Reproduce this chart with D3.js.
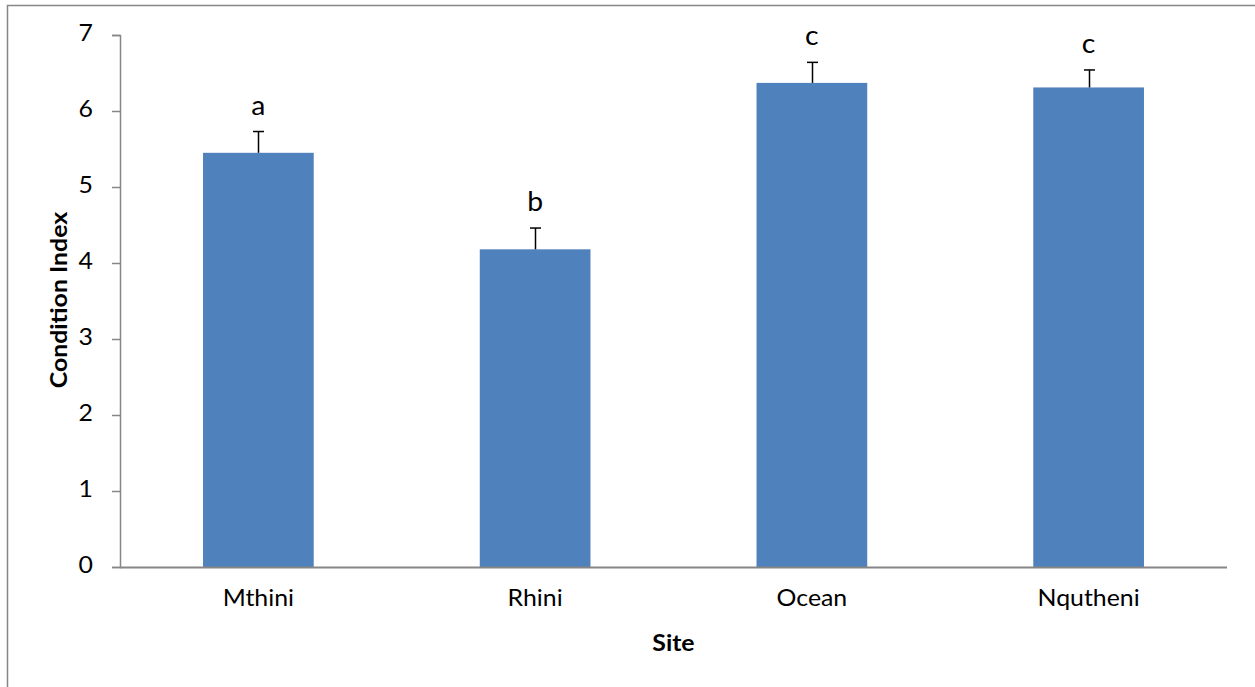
<!DOCTYPE html>
<html>
<head>
<meta charset="utf-8">
<script src="https://cdnjs.cloudflare.com/ajax/libs/d3/7.8.5/d3.min.js"></script>
<style>
  html, body { margin: 0; padding: 0; background: #fff; }
  svg { display: block; }
  text { font-family: Lato, "Open Sans", sans-serif; fill: #000; }
</style>
</head>
<body>
<svg id="chart" width="1255" height="687"></svg>
<script>
// Mean condition index per site, with standard error and significance letters
const sites = ["Mthini", "Rhini", "Ocean", "Nqutheni"];
const means = [5.45, 4.18, 6.37, 6.31];
const errors = [0.28, 0.28, 0.27, 0.23];
const letters = ["a", "b", "c", "c"];
const yTicks = [0, 1, 2, 3, 4, 5, 6, 7];

const svg = d3.select("#chart");
const W = 1255, H = 687;
const margin = { left: 120, right: 28, top: 35, bottom: 120 };
const FONT = 23;        // px, axis text
const LETTER_FONT = 27; // px, significance letters
const WIDEN = 1.08;     // horizontal stretch applied to labels

// stretch each text horizontally around its anchor
function widen(sel, k = WIDEN) {
  sel.each(function () {
    const w = this.getComputedTextLength();
    d3.select(this).attr("textLength", w * k).attr("lengthAdjust", "spacingAndGlyphs");
  });
}

// outer chart frame
svg.append("rect")
  .attr("x", 7.5).attr("y", 5.5)
  .attr("width", W + 10).attr("height", H + 10)
  .attr("fill", "none").attr("stroke", "#868686").attr("stroke-width", 1.5);

const x = d3.scaleBand()
  .domain(sites)
  .range([margin.left, W - margin.right])
  .paddingInner(0.6)
  .paddingOuter(0.3);

const y = d3.scaleLinear()
  .domain([0, 7])
  .range([H - margin.bottom, margin.top]);

// bars
svg.append("g").selectAll("rect")
  .data(sites)
  .join("rect")
  .attr("x", d => x(d))
  .attr("width", x.bandwidth())
  .attr("y", (d, i) => y(means[i]))
  .attr("height", (d, i) => y(0) - y(means[i]))
  .attr("fill", "#4F81BD");

// upper error bars
const eb = svg.append("g").attr("stroke", "#000").attr("stroke-width", 1.5);
sites.forEach((s, i) => {
  const cx = Math.round(x(s) + x.bandwidth() / 2) + 0.5;
  const top = y(means[i] + errors[i]);
  eb.append("line").attr("x1", cx).attr("x2", cx)
    .attr("y1", y(means[i])).attr("y2", top);
  eb.append("line").attr("x1", cx - 5.5).attr("x2", cx + 5.5)
    .attr("y1", top).attr("y2", top);
});

// significance letters
svg.append("g").selectAll("text")
  .data(sites)
  .join("text")
  .attr("x", d => x(d) + x.bandwidth() / 2)
  .attr("y", (d, i) => y(means[i] + errors[i]) - 17)
  .attr("text-anchor", "middle")
  .style("font-size", LETTER_FONT + "px")
  .text((d, i) => letters[i])
  .call(widen, 1.05);

// y axis
const yAxis = svg.append("g")
  .attr("transform", `translate(${margin.left},0)`)
  .call(d3.axisLeft(y).tickValues(yTicks).tickFormat(d3.format("d"))
    .tickSize(8).tickPadding(19).tickSizeOuter(8));
yAxis.selectAll("path, line").attr("stroke", "#868686").attr("stroke-width", 1.5);
yAxis.selectAll("text")
  .attr("font-family", null).attr("font-size", null)
  .style("font-size", FONT + "px").attr("dy", "0.26em")
  .call(widen);

// x axis
const xAxis = svg.append("g")
  .attr("transform", `translate(0,${y(0)})`)
  .call(d3.axisBottom(x).tickSize(0).tickPadding(23));
xAxis.select("path").attr("d", `M${margin.left},0.5H${W - margin.right}`)
  .attr("stroke", "#868686").attr("stroke-width", 2);
xAxis.selectAll("text")
  .attr("font-family", null).attr("font-size", null)
  .style("font-size", FONT + "px")
  .call(widen);

// axis titles
svg.append("text")
  .attr("x", (margin.left + W - margin.right) / 2)
  .attr("y", 651)
  .attr("text-anchor", "middle")
  .style("font-size", FONT + "px").style("font-weight", "bold")
  .text("Site")
  .call(widen);

svg.append("text")
  .attr("transform", "translate(67,300) rotate(-90)")
  .attr("text-anchor", "middle")
  .style("font-size", FONT + "px").style("font-weight", "bold")
  .text("Condition Index")
  .call(widen);
</script>
</body>
</html>
